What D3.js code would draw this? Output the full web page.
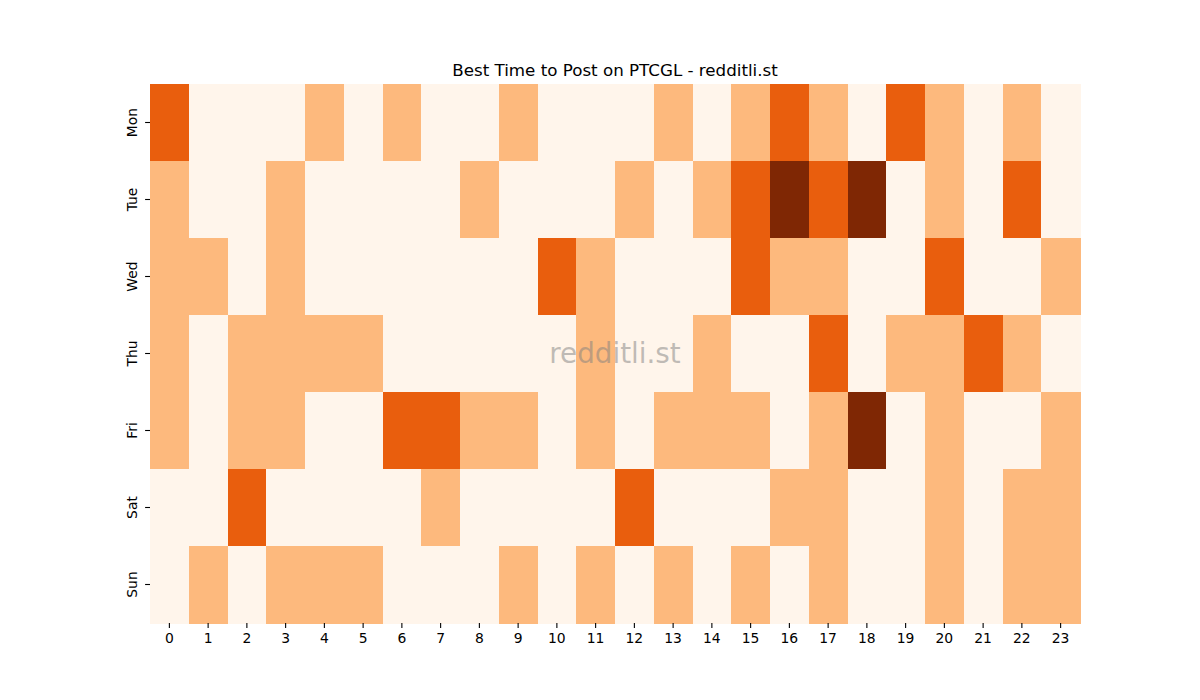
<!DOCTYPE html>
<html>
<head>
<meta charset="utf-8">
<script src="https://cdn.jsdelivr.net/npm/d3@7"></script>
<style>
  body { margin: 0; background: #fff; }
  text { font-family: "DejaVu Sans", sans-serif; }
</style>
</head>
<body>
<div id="chart"></div>
<script>
const days = ['Mon', 'Tue', 'Wed', 'Thu', 'Fri', 'Sat', 'Sun'];
const hours = d3.range(24);

// activity level per hour (0-3), one array per day
const mon = [2, 0, 0, 0, 1, 0, 1, 0, 0, 1, 0, 0, 0, 1, 0, 1, 2, 1, 0, 2, 1, 0, 1, 0];
const tue = [1, 0, 0, 1, 0, 0, 0, 0, 1, 0, 0, 0, 1, 0, 1, 2, 3, 2, 3, 0, 1, 0, 2, 0];
const wed = [1, 1, 0, 1, 0, 0, 0, 0, 0, 0, 2, 1, 0, 0, 0, 2, 1, 1, 0, 0, 2, 0, 0, 1];
const thu = [1, 0, 1, 1, 1, 1, 0, 0, 0, 0, 0, 1, 0, 0, 1, 0, 0, 2, 0, 1, 1, 2, 1, 0];
const fri = [1, 0, 1, 1, 0, 0, 2, 2, 1, 1, 0, 1, 0, 1, 1, 1, 0, 1, 3, 0, 1, 0, 0, 1];
const sat = [0, 0, 2, 0, 0, 0, 0, 1, 0, 0, 0, 0, 2, 0, 0, 0, 1, 1, 0, 0, 1, 0, 1, 1];
const sun = [0, 1, 0, 1, 1, 1, 0, 0, 0, 1, 0, 1, 0, 1, 0, 1, 0, 1, 0, 0, 1, 0, 1, 1];
const rows = [mon, tue, wed, thu, fri, sat, sun];

const title = 'Best Time to Post on PTCGL - redditli.st';
const watermark = 'redditli.st';

const width = 1200;
const height = 700;
const margin = { top: 84, right: 120, bottom: 77, left: 150 };
const w = width - margin.left - margin.right;
const h = height - margin.top - margin.bottom;

const cells = [];
rows.forEach((r, i) => r.forEach((v, j) => cells.push({ day: days[i], hour: hours[j], value: v })));

const svg = d3.select('#chart')
  .append('svg')
  .attr('width', width)
  .attr('height', height);

const chart = svg.append('g').attr('transform', `translate(${margin.left}, ${margin.top})`);

const xScale = d3.scaleBand().range([0, w]).domain(hours);
const yScale = d3.scaleBand().range([0, h]).domain(days);
const color = d3.scaleOrdinal().domain([0, 1, 2, 3]).range(['#fff5eb', '#fdb97d', '#e95e0d', '#7f2704']);

// heatmap cells
chart.selectAll('rect')
  .data(cells).enter()
  .append('rect')
  .attr('x', (d) => xScale(d.hour))
  .attr('y', (d) => yScale(d.day))
  .attr('width', xScale.bandwidth() + 0.5)
  .attr('height', yScale.bandwidth() + 0.5)
  .attr('fill', (d) => color(d.value))
  .attr('shape-rendering', 'crispEdges');

// axes
const xAxis = chart.append('g')
  .attr('transform', `translate(0, ${h})`)
  .call(d3.axisBottom(xScale).tickSize(4.9).tickPadding(4.9));
const yAxis = chart.append('g')
  .call(d3.axisLeft(yScale).tickSize(4.9).tickPadding(4.9));

[xAxis, yAxis].forEach((a) => {
  a.select('.domain').remove();
  a.selectAll('text').attr('font-size', 13.9).attr('fill', '#000').style('font-family', '"DejaVu Sans", sans-serif');
  a.selectAll('line').attr('stroke', '#000').attr('stroke-width', 1.1);
});
xAxis.selectAll('text').attr('dy', '0.71em');

yAxis.selectAll('text')
  .attr('text-anchor', 'middle')
  .attr('dy', null)
  .attr('x', null)
  .attr('transform', 'translate(-18, 0) rotate(-90)')
  .attr('dominant-baseline', 'central');

// title
svg.append('text')
  .attr('x', margin.left + w / 2)
  .attr('y', 76)
  .attr('text-anchor', 'middle')
  .attr('font-size', 16.7)
  .text(title);

// watermark
chart.append('text')
  .attr('x', w / 2)
  .attr('y', h / 2)
  .attr('text-anchor', 'middle')
  .attr('dominant-baseline', 'central')
  .attr('font-size', 27.8)
  .attr('fill', '#808080')
  .attr('fill-opacity', 0.5)
  .text(watermark);
</script>
</body>
</html>
